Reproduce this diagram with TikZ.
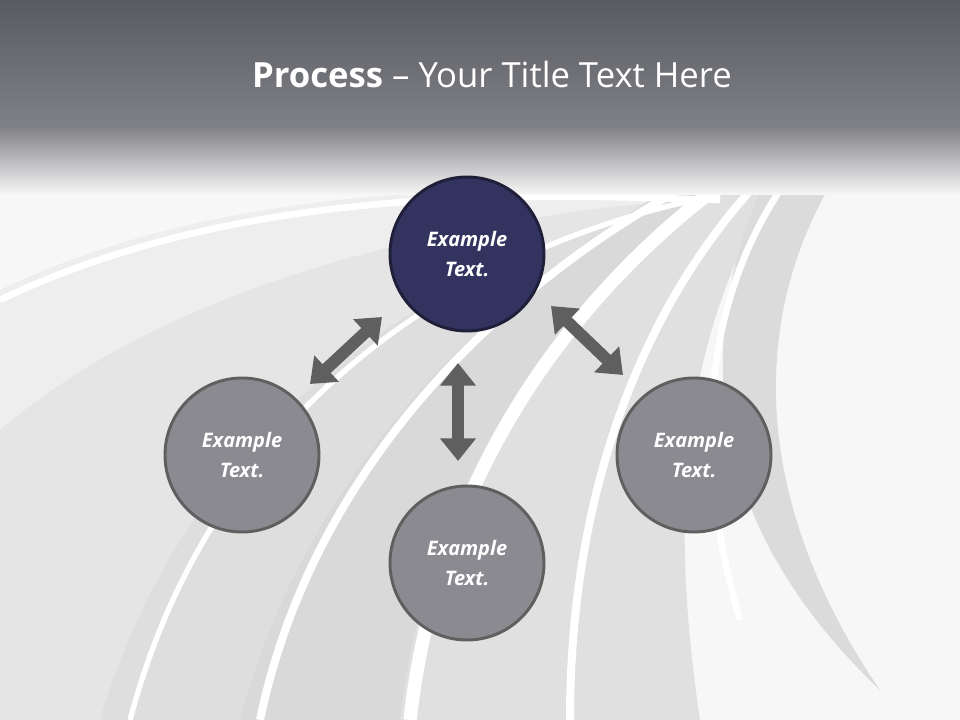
\documentclass[tikz,border=0pt]{standalone}
\usepackage{fontspec}
\setmainfont{Open Sans}
\usetikzlibrary{arrows.meta}
\definecolor{navy}{HTML}{33335F}
\definecolor{cgray}{HTML}{8A8A90}
\definecolor{agray}{HTML}{5F5F5F}
\definecolor{hdark}{HTML}{5A5B60}
\definecolor{hmid}{HTML}{808186}
\tikzset{x=0.75pt,y=-0.75pt,
 circ/.style={circle,minimum size=154*0.75pt,draw=#1,line width=2.2pt,text=white,font=\fontsize{15}{22}\selectfont\bfseries\itshape,align=center},
 dbl/.style={{Triangle[length=17pt,width=26pt]}-{Triangle[length=17pt,width=26pt]},line width=9pt,draw=agray},
 band/.style={fill=#1,draw=none},
 wline/.style={draw=white,line width=#1}}
\begin{document}
\begin{tikzpicture}
\useasboundingbox (0,0) rectangle (960,720);
\fill[gray!6] (0,0) rectangle (960,720);
% bands
\fill[band=gray!13] (0,290) .. controls (250,170) and (550,190) .. (740,190) .. controls (620,320) and (560,500) .. (560,720) -- (0,720) -- cycle;
\fill[band=gray!20] (0,430) .. controls (200,260) and (520,210) .. (740,195) .. controls (620,320) and (560,500) .. (560,720) -- (0,720) -- cycle;
\fill[band=gray!26] (100,720) .. controls (200,380) and (500,230) .. (740,190) .. controls (620,320) and (560,500) .. (560,720) -- cycle;
\fill[band=gray!30] (240,720) .. controls (320,420) and (560,240) .. (740,150) -- (780,150) .. controls (640,280) and (560,500) .. (560,720) -- cycle;
\fill[band=gray!24] (400,720) .. controls (430,450) and (600,260) .. (760,150) -- (800,140) .. controls (700,300) and (660,450) .. (700,720) -- cycle;
\fill[band=gray!28] (780,150) .. controls (700,300) and (680,500) .. (880,690) .. controls (750,500) and (740,300) .. (860,140) -- cycle;
\draw[wline=5pt] (0,300) .. controls (250,180) and (550,195) .. (720,200);
\draw[wline=4pt] (130,720) .. controls (220,380) and (500,235) .. (720,195);
\draw[wline=6pt] (260,720) .. controls (320,430) and (560,240) .. (740,160);
\draw[wline=10pt] (410,720) .. controls (440,450) and (600,260) .. (770,150);
\draw[wline=6pt] (570,720) .. controls (570,480) and (650,280) .. (790,150);
\draw[wline=5pt] (740,620) .. controls (690,450) and (700,280) .. (810,150);
% header
\shade[top color=hdark,bottom color=hmid] (0,0) rectangle (960,128);
\shade[top color=hmid,bottom color=gray!6] (0,127) rectangle (960,195);
\node[text=white,font=\fontsize{26}{30}\selectfont] (title) at (492,75) {\textbf{Process} – Your Title Text Here};
% circles
\node[circ=navy!60!black,fill=navy] (c0) at (467,254) {Example\\Text.};
\node[circ=agray,fill=cgray] (c1) at (242,455) {Example\\Text.};
\node[circ=agray,fill=cgray] (c2) at (467,563) {Example\\Text.};
\node[circ=agray,fill=cgray] (c3) at (694,455) {Example\\Text.};
% arrows
\coordinate (a1) at (310,384); \coordinate (b1) at (382,317);
\coordinate (a2) at (458,363); \coordinate (b2) at (458,461);
\coordinate (a3) at (551,306); \coordinate (b3) at (623,375);
\draw[dbl] (a1) -- (b1);
\draw[dbl] (a2) -- (b2);
\draw[dbl] (a3) -- (b3);
\end{tikzpicture}
\end{document}
